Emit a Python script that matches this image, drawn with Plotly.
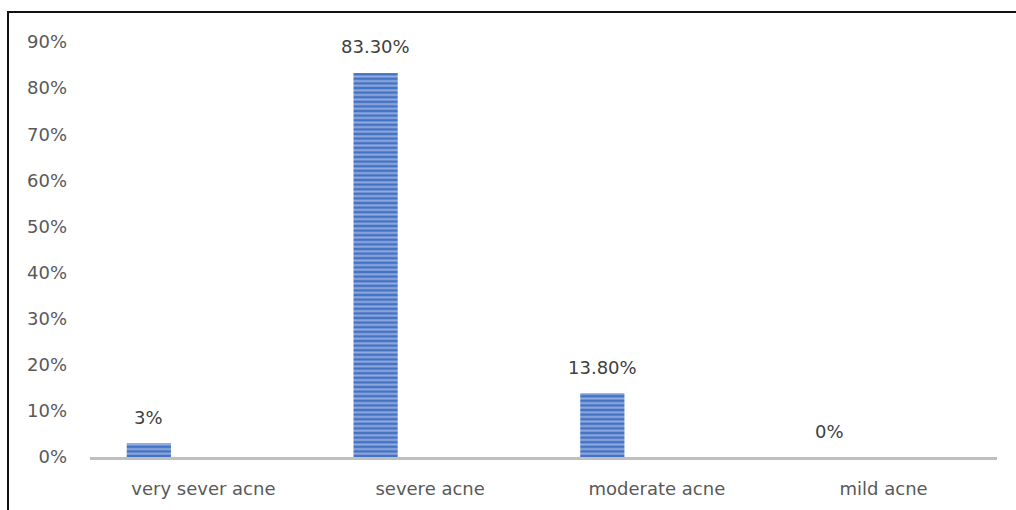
import plotly.graph_objects as go

# Acne severity distribution
categories = ["very sever acne", "severe acne", "moderate acne", "mild acne"]
shares = [0.03, 0.833, 0.138, 0.0]
value_labels = ["3%", "83.30%", "13.80%", "0%"]
y_ticks = [0.0, 0.1, 0.2, 0.3, 0.4, 0.5, 0.6, 0.7, 0.8, 0.9]
y_tick_text = ["0%", "10%", "20%", "30%", "40%", "50%", "60%", "70%", "80%", "90%"]

# bar geometry, in category units (bars sit left of each category centre)
BAR_WIDTH = 0.195
BAR_OFFSET = -0.338

TEXT = "#595959"
FONT = "DejaVu Sans"
SIZE = 18

fig = go.Figure()
fig.add_trace(go.Bar(
    x=categories,
    y=shares,
    width=BAR_WIDTH,
    offset=BAR_OFFSET,
    marker=dict(
        color="#4472C4",
        line=dict(width=0),
        pattern=dict(shape="-", size=4.6, solidity=0.45, fgcolor="#dbe4f5"),
    ),
    hoverinfo="skip",
))

# value labels above each bar
for i, (v, t) in enumerate(zip(shares, value_labels)):
    fig.add_annotation(
        x=i + BAR_OFFSET + BAR_WIDTH / 2, y=v, text=t,
        showarrow=False, yanchor="middle", yshift=26,
        font=dict(family=FONT, size=SIZE, color="#404040"),
    )

# outer frame (only its left and top edges fall inside the canvas)
fig.add_shape(
    type="rect", xref="paper", yref="paper",
    xsizemode="pixel", ysizemode="pixel", xanchor=0, yanchor=0,
    x0=-82, x1=1000, y0=-120, y1=445,
    line=dict(color="#111111", width=2), fillcolor="rgba(0,0,0,0)",
    layer="above",
)

fig.update_layout(
    width=1016, height=510,
    margin=dict(l=90, r=19, t=42, b=53, autoexpand=False),
    paper_bgcolor="white", plot_bgcolor="white",
    showlegend=False,
    font=dict(family=FONT, size=SIZE, color=TEXT),
    xaxis=dict(
        type="category", range=[-0.5, 3.5],
        showline=True, linecolor="#bfbfbf", linewidth=2.5,
        showgrid=False, ticks="", zeroline=False,
        tickfont=dict(family=FONT, size=SIZE, color=TEXT),
        ticklabelstandoff=14,
    ),
    yaxis=dict(
        range=[0, 0.9], tickvals=y_ticks, ticktext=y_tick_text,
        showgrid=False, zeroline=False, showline=False, ticks="",
        tickfont=dict(family=FONT, size=SIZE, color=TEXT),
        ticklabelstandoff=22,
    ),
)

fig.write_html("out.html")
